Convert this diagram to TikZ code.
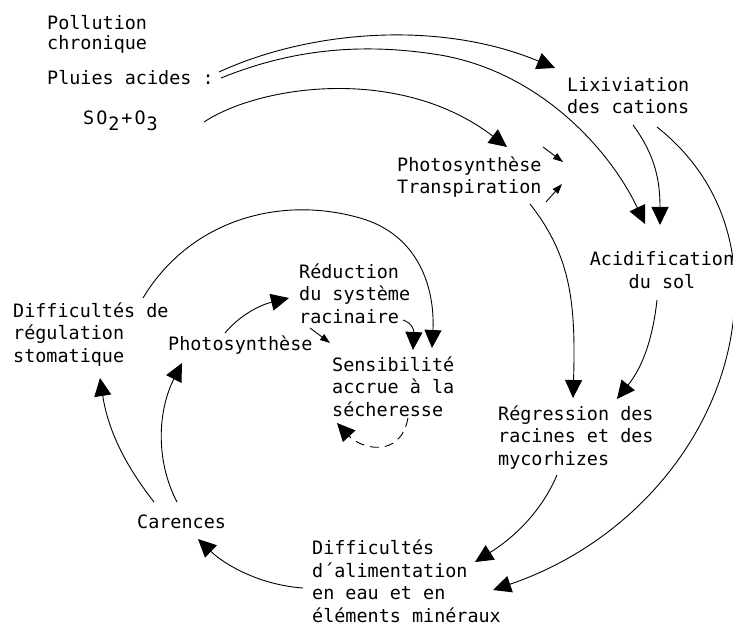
\documentclass[tikz,border=0pt]{standalone}
\usepackage{fontspec}
\setmainfont{DejaVu Sans Mono}
\usetikzlibrary{arrows.meta}
\begin{document}
\begin{tikzpicture}[x=1bp,y=-1bp,
  lab/.style={inner sep=0pt, anchor=base west, align=left, font=\fontsize{18.5}{22.5}\selectfont},
  conn/.style={line width=0.9bp},
  big/.style={conn,-{Triangle[length=18bp,width=17bp]}},
  small/.style={conn,-{Triangle[length=10bp,width=7bp]}}]
\useasboundingbox (0,0) rectangle (733,625);
% nodes (anchor = baseline of the last line)
\node[lab] (poll) at (47,50) {Pollution\\[-1.5bp]chronique};
\node[lab] (pluies) at (47,85) {Pluies acides :};
\node[lab] (so) at (83,125) {S\kern2bp O\kern1bp\raisebox{-6bp}{2}\kern2bp+\kern2bp O\kern1bp\raisebox{-6bp}{3}};
\node[lab] (lix) at (567,114) {Lixiviation\\des cations};
\node[lab] (phot) at (397,194) {Photosynthèse\\Transpiration};
\node[lab, anchor=base, align=center] (acid) at (662,288) {Acidification\\du sol};
\node[lab] (red) at (299,323) {Réduction\\du système\\racinaire};
\node[lab] (sens) at (332,416) {Sensibilité\\accrue à la\\sécheresse};
\node[lab] (diffreg) at (13,362) {Difficultés de\\régulation\\stomatique};
\node[lab] (phot2) at (168,350) {Photosynthèse};
\node[lab] (car) at (137,528) {Carences};
\node[lab] (reg) at (498,465) {Régression des\\racines et des\\mycorhizes};
\node[lab] (diffal) at (312,622) {Difficultés\\d´alimentation\\en eau et en\\éléments minéraux};
% connector end points
\coordinate (pluiesA) at (219,72);
\coordinate (pluiesB) at (221,78);
\coordinate (soE) at (204,122);
\coordinate (lixIn) at (555,68);
\coordinate (photIn) at (507,147);
\coordinate (acidInA) at (645,224);
\coordinate (acidInB) at (660,225);
\coordinate (lixS1) at (633,125);
\coordinate (lixS2) at (657,127);
\coordinate (diffalInA) at (475,562);
\coordinate (diffalInB) at (493,590);
\coordinate (photS) at (530,204);
\coordinate (regInA) at (573,398);
\coordinate (regInB) at (617,399);
\coordinate (acidS) at (657,300);
\coordinate (regS) at (557,475);
\coordinate (diffalW) at (303,588);
\coordinate (carIn) at (198,539);
\coordinate (carN1) at (154,502);
\coordinate (carN2) at (177,502);
\coordinate (diffregIn) at (100,378);
\coordinate (phot2In) at (182,363);
\coordinate (phot2N) at (225,333);
\coordinate (redIn) at (289,298);
\coordinate (phot2E) at (310,328);
\coordinate (sensInA) at (330,343);
\coordinate (redS) at (403,320);
\coordinate (sensInB) at (413,350);
\coordinate (diffregN) at (143,298);
\coordinate (sensInC) at (432,348);
\coordinate (sensS) at (408,418);
\coordinate (sensInD) at (337,423);
\coordinate (pa1) at (543,147);
\coordinate (pa1e) at (563,162);
\coordinate (pa2) at (546,202);
\coordinate (pa2e) at (562,184);
% connectors
\draw[big] (pluiesA) .. controls (310,30) and (440,20) .. (lixIn);
\draw[big] (pluiesB) .. controls (290,50) and (360,42) .. (440,55) .. controls (540,72) and (610,150) .. (acidInA);
\draw[big] (soE) .. controls (260,85) and (400,65) .. (photIn);
\draw[small] (pa1) -- (pa1e);
\draw[small] (pa2) -- (pa2e);
\draw[big] (lixS1) .. controls (655,155) and (660,180) .. (acidInB);
\draw[big] (lixS2) .. controls (705,165) and (735,220) .. (735,290) .. controls (735,420) and (640,540) .. (diffalInB);
\draw[big] (photS) .. controls (570,255) and (576,300) .. (regInA);
\draw[big] (acidS) .. controls (652,345) and (640,370) .. (regInB);
\draw[big] (regS) .. controls (540,515) and (510,540) .. (diffalInA);
\draw[big] (diffalW) .. controls (260,585) and (225,565) .. (carIn);
\draw[big] (carN1) .. controls (125,465) and (108,430) .. (diffregIn);
\draw[big] (carN2) .. controls (155,460) and (158,410) .. (phot2In);
\draw[big] (phot2N) .. controls (240,315) and (260,305) .. (redIn);
\draw[small] (phot2E) -- (sensInA);
\draw[big] (redS) .. controls (412,323) and (414,330) .. (sensInB);
\draw[big] (diffregN) .. controls (190,220) and (280,195) .. (360,218) .. controls (420,235) and (435,290) .. (sensInC);
\draw[big, dash pattern=on 9bp off 6bp] (sensS) .. controls (400,460) and (360,448) .. (sensInD);
\end{tikzpicture}
\end{document}
